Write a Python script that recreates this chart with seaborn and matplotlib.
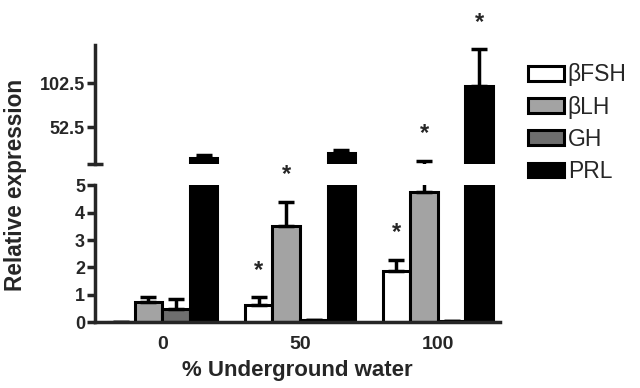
import numpy as np
import pandas as pd
import seaborn as sns
import matplotlib.pyplot as plt

# data (mean, upward SEM)
water = ["0", "50", "100"]
genes = ["βFSH", "βLH", "GH", "PRL"]
fsh_mean = [0.03, 0.65, 1.88]
fsh_err = [0.0, 0.26, 0.40]
lh_mean = [0.75, 3.50, 4.75]
lh_err = [0.18, 0.90, 9.70]
gh_mean = [0.48, 0.10, 0.04]
gh_err = [0.36, 0.0, 0.0]
prl_mean = [17.5, 23.0, 99.0]
prl_err = [3.5, 3.7, 42.0]
fsh_sig = [False, True, True]
lh_sig = [False, True, True]
gh_sig = [False, False, False]
prl_sig = [False, False, True]

means = [fsh_mean, lh_mean, gh_mean, prl_mean]
errs = [fsh_err, lh_err, gh_err, prl_err]
sigs = [fsh_sig, lh_sig, gh_sig, prl_sig]

df = pd.DataFrame({
    "water": np.tile(water, len(genes)),
    "gene": np.repeat(genes, len(water)),
    "value": np.concatenate(means),
})

colors = ["white", "#a3a3a3", "#6e6e6e", "black"]
palette = dict(zip(genes, colors))

sns.set_style("ticks")
plt.rcParams["font.family"] = ["Liberation Sans", "DejaVu Sans"]

fig = plt.figure(figsize=(6.4, 3.88), dpi=100)
ax_lo = fig.add_axes([0.148, 0.169, 0.633, 0.354])
ax_hi = fig.add_axes([0.148, 0.577, 0.633, 0.307], sharex=ax_lo)

for ax in (ax_lo, ax_hi):
    sns.barplot(data=df, x="water", y="value", hue="gene", order=water,
                hue_order=genes, palette=palette, edgecolor="black",
                linewidth=2.2, saturation=1, errorbar=None, legend=(ax is ax_hi), ax=ax)

ax_lo.set_ylim(0, 5)
ax_hi.set_ylim(10.8, 146)
ax_lo.set_xlim(-0.49, 2.45)

# upward error bars + significance stars
bar_groups = list(ax_lo.containers)
for j, cont in enumerate(bar_groups):
    xs = [b.get_x() + b.get_width() / 2 for b in cont]
    for ax in (ax_lo, ax_hi):
        ax.errorbar(xs, means[j], yerr=[np.zeros(3), errs[j]], fmt="none",
                    ecolor="black", elinewidth=2.5, capsize=5.5, capthick=2.5)
    for i, x in enumerate(xs):
        if sigs[j][i]:
            top = means[j][i] + errs[j][i]
            ax = ax_lo if top <= 5 else ax_hi
            ax.annotate("*", (x, top), xytext=(0, 19.5), textcoords="offset points",
                        ha="center", va="center", fontsize=17, fontweight="bold",
                        annotation_clip=False)

# styling
for ax in (ax_lo, ax_hi):
    ax.spines["top"].set_visible(False)
    ax.spines["right"].set_visible(False)
    ax.spines["left"].set_linewidth(2.5)
    ax.spines["bottom"].set_linewidth(2.5)
    ax.set_ylabel("")
    ax.tick_params(axis="y", length=6, width=2.5, pad=1, labelsize=13)

ax_lo.set_yticks([0, 1, 2, 3, 4, 5])
ax_lo.set_yticks([5], minor=True)
ax_lo.tick_params(axis="y", which="minor", direction="inout", length=11, width=2.5)
ax_lo.tick_params(axis="x", length=0, pad=10, labelsize=14)
ax_lo.set_xlabel("% Underground water", fontsize=16, fontweight="bold", labelpad=5)

ax_hi.spines["bottom"].set_visible(False)
ax_hi.set_yticks([52.5, 102.5])
ax_hi.set_yticks([10.8], minor=True)
ax_hi.tick_params(axis="y", which="minor", direction="inout", length=11, width=2.5)
ax_hi.tick_params(axis="x", bottom=False, labelbottom=False)
ax_hi.set_xlabel("")

for ax in (ax_lo, ax_hi):
    for t in ax.get_yticklabels() + ax.get_xticklabels():
        t.set_fontweight("bold")

fig.text(0.025, 0.523, "Relative expression", rotation=90, ha="center",
         va="center", fontsize=16.3, fontweight="bold")

handles, labels = ax_hi.get_legend_handles_labels()
ax_hi.get_legend().remove()
fig.legend(handles, labels, loc="upper left", bbox_to_anchor=(0.81, 0.86),
           frameon=False, fontsize=16.5, handlelength=1.6, handleheight=0.6,
           handletextpad=0.15, labelspacing=0.4, borderaxespad=0)

fig.savefig("out.png", dpi=100)
